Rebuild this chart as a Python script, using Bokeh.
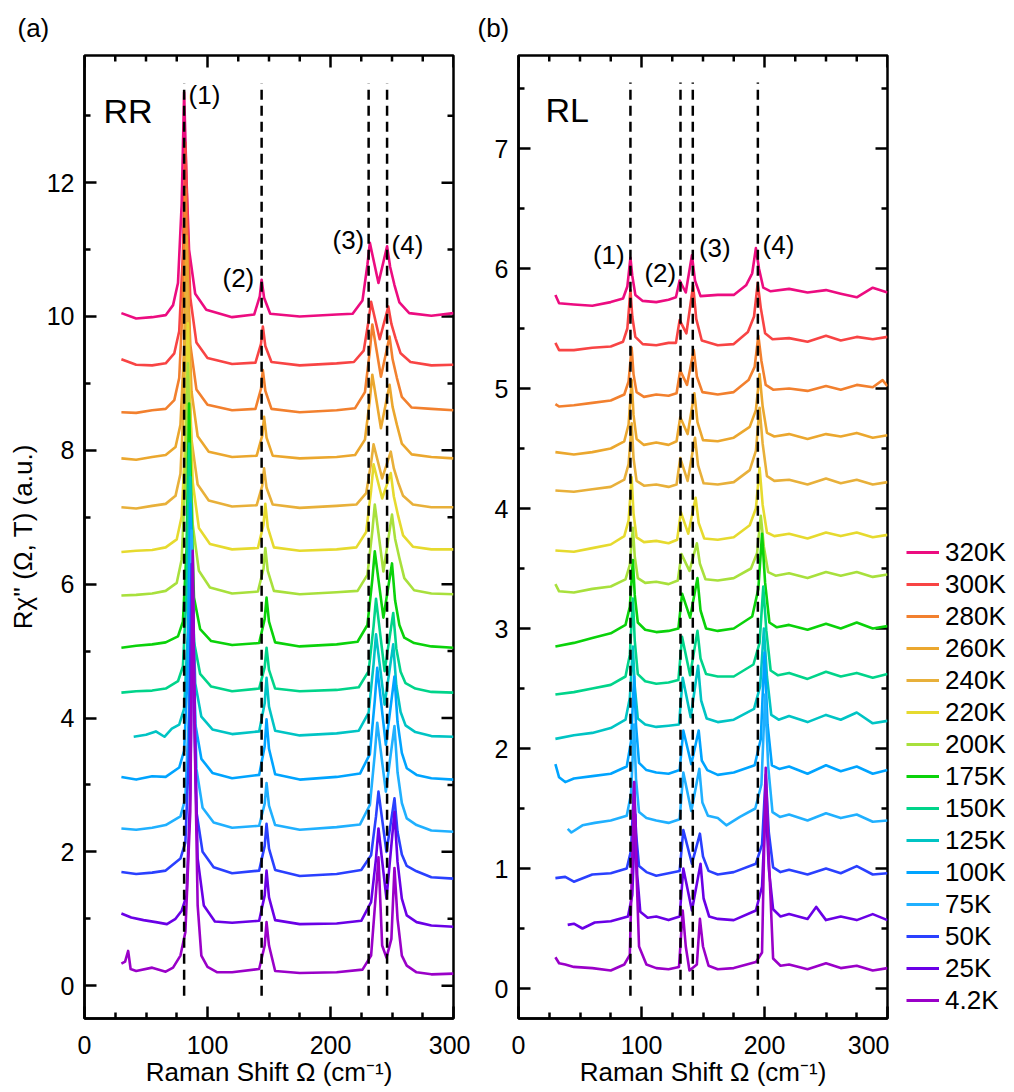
from bokeh.plotting import figure
from bokeh.models import Range1d, Legend, LegendItem, Label, FixedTicker, Title
from bokeh.layouts import row
from bokeh.embed import file_html
from bokeh.resources import INLINE

FONT = "Liberation Sans"

TEMPS = ["320K", "300K", "280K", "260K", "240K", "220K", "200K", "175K",
         "150K", "125K", "100K", "75K", "50K", "25K", "4.2K"]
COLORS = ["#EC0C80", "#F84444", "#F2802E", "#EBA72E", "#E8B03A", "#E6DA2E", "#A8E03C",
          "#0AD20A", "#00D48A", "#00C4C4", "#00A4FF", "#20B0FF", "#2A40FF", "#6A00E6", "#9A00C8"]

# ---------------- panel (a): RR ----------------
RR_X = [
    [30, 42, 55, 66, 72, 76, 79, 81, 83, 85, 90, 99, 120, 138, 142.5, 144, 146, 151, 175, 205, 218, 226, 230, 232, 239, 246, 248.5, 252, 256, 264, 282, 300],
    [30, 42, 55, 66, 73, 77, 80, 82, 84, 86, 91, 100, 120, 139, 143.5, 145, 147, 152, 175, 205, 219, 227, 231, 233, 240, 247, 249.5, 253, 257, 265, 282, 300],
    [30, 42, 55, 66, 73, 77, 80, 82, 84, 86, 91, 100, 120, 139, 143.5, 145, 147, 152, 175, 205, 220, 228, 232, 234, 241, 248, 250.5, 254, 258, 266, 282, 300],
    [30, 42, 55, 66, 74, 78, 81, 83, 85, 87, 92, 101, 120, 140, 144.5, 146, 148, 153, 175, 205, 220, 228, 232, 234, 241, 248, 250.5, 254, 258, 266, 282, 300],
    [30, 42, 55, 66, 74, 78, 81, 83, 85, 87, 92, 101, 120, 140, 144.5, 146, 148, 153, 175, 205, 221, 229, 233, 235, 242, 249, 251.5, 255, 259, 267, 282, 300],
    [30, 42, 55, 66, 75, 79, 82, 84, 86, 88, 93, 102, 120, 141, 145.5, 147, 149, 154, 175, 205, 221, 229, 233, 235, 242, 249, 251.5, 255, 259, 267, 282, 300],
    [30, 42, 55, 66, 75, 79, 82, 84, 86, 88, 93, 102, 120, 141, 145.5, 147, 149, 154, 175, 205, 222, 230, 234, 236, 243, 250, 252.5, 256, 260, 268, 282, 300],
    [30, 42, 55, 66, 76, 80, 83, 85, 87, 89, 94, 103, 120, 142, 146.5, 148, 150, 155, 175, 205, 222, 230, 234, 236, 243, 250, 252.5, 256, 260, 268, 282, 300],
    [30, 42, 55, 66, 76, 80, 83, 85, 87, 89, 94, 103, 120, 142, 146.5, 148, 150, 155, 175, 205, 223, 231, 235, 237, 244, 251, 253.5, 257, 261, 269, 282, 300],
    [40, 50, 58, 65, 71, 77, 81, 84, 86, 88, 90, 95, 104, 120, 142, 146.5, 148, 150, 155, 175, 205, 223, 231, 235, 237, 244, 251, 253.5, 257, 261, 269, 282, 300],
    [30, 42, 55, 66, 77, 81, 84, 86, 88, 90, 95, 104, 120, 142, 146.5, 148, 150, 155, 175, 205, 224, 232, 236, 238, 245, 252, 254.5, 258, 262, 270, 282, 300],
    [30, 42, 55, 66, 78, 82, 85, 87, 89, 91, 96, 105, 120, 142, 146.5, 148, 150, 155, 175, 205, 224, 232, 236, 238, 245, 252, 254.5, 258, 262, 270, 282, 300],
    [30, 42, 55, 66, 78, 82, 85, 87, 89, 91, 96, 105, 120, 142, 146.5, 148, 150, 155, 175, 205, 225, 233, 237, 239, 245.5, 252, 254.5, 258, 262, 270, 282, 300],
    [30, 38, 48, 58, 67, 74, 79, 83, 86, 88, 90, 92, 97, 106, 120, 142, 146.5, 148, 150, 155, 175, 205, 225, 233, 237, 239, 245.5, 252, 254.5, 258, 262, 270, 282, 300],
    [30, 33, 35.5, 37.5, 42, 55, 66, 72, 78, 82, 86, 88, 90, 92, 95, 100, 108, 120, 142, 146.5, 148, 150, 155, 175, 205, 226, 233, 237, 239, 242, 245.5, 249.5, 252, 254.5, 258, 262, 270, 282, 300],
]
RR_Y = [
    [10.05, 9.97, 9.99, 10.02, 10.17, 10.5, 11.68, 13.35, 12.01, 11.0, 10.34, 10.1, 9.99, 10.03, 10.3, 10.55, 10.28, 10.04, 10.0, 10.03, 10.04, 10.24, 10.77, 11.1, 10.5, 11.05, 10.74, 10.47, 10.21, 10.05, 10.01, 10.05],
    [9.36, 9.28, 9.27, 9.3, 9.45, 9.78, 10.94, 12.6, 11.27, 10.28, 9.61, 9.38, 9.29, 9.31, 9.59, 9.85, 9.56, 9.32, 9.27, 9.3, 9.32, 9.49, 9.94, 10.22, 9.66, 10.15, 9.89, 9.67, 9.45, 9.32, 9.27, 9.28],
    [8.57, 8.56, 8.6, 8.62, 8.75, 9.08, 10.24, 11.9, 10.57, 9.58, 8.91, 8.68, 8.6, 8.62, 8.92, 9.2, 8.89, 8.62, 8.57, 8.6, 8.63, 8.87, 9.49, 9.88, 9.1, 9.7, 9.36, 9.08, 8.8, 8.64, 8.62, 8.6],
    [7.88, 7.86, 7.9, 7.93, 8.05, 8.38, 9.54, 11.2, 9.87, 8.88, 8.21, 7.98, 7.9, 7.92, 8.22, 8.5, 8.19, 7.92, 7.88, 7.9, 7.93, 8.16, 8.76, 9.13, 8.33, 8.98, 8.65, 8.38, 8.1, 7.94, 7.9, 7.88],
    [7.15, 7.13, 7.17, 7.2, 7.32, 7.65, 8.83, 10.5, 9.16, 8.16, 7.49, 7.25, 7.16, 7.18, 7.47, 7.73, 7.44, 7.19, 7.14, 7.17, 7.19, 7.36, 7.81, 8.09, 7.58, 7.98, 7.73, 7.52, 7.32, 7.19, 7.15, 7.15],
    [6.48, 6.5, 6.51, 6.55, 6.67, 7.01, 8.2, 9.9, 8.54, 7.52, 6.84, 6.6, 6.52, 6.54, 6.89, 7.2, 6.85, 6.55, 6.5, 6.52, 6.55, 6.78, 7.4, 7.79, 7.28, 7.66, 7.31, 7.02, 6.73, 6.56, 6.52, 6.52],
    [5.83, 5.84, 5.86, 5.9, 6.02, 6.37, 7.58, 9.3, 7.92, 6.89, 6.2, 5.95, 5.86, 5.89, 6.23, 6.54, 6.2, 5.9, 5.85, 5.88, 5.9, 6.14, 6.79, 7.19, 6.19, 7.04, 6.68, 6.39, 6.09, 5.91, 5.86, 5.85],
    [5.05, 5.08, 5.1, 5.13, 5.22, 5.44, 6.53, 8.7, 7.07, 5.8, 5.33, 5.15, 5.09, 5.12, 5.48, 5.8, 5.44, 5.13, 5.07, 5.1, 5.14, 5.39, 6.07, 6.49, 5.5, 6.31, 5.76, 5.39, 5.2, 5.12, 5.07, 5.05],
    [4.38, 4.4, 4.41, 4.44, 4.55, 4.77, 5.88, 8.1, 6.44, 5.14, 4.66, 4.47, 4.4, 4.44, 4.76, 5.05, 4.72, 4.44, 4.4, 4.42, 4.46, 4.7, 5.37, 5.78, 4.7, 5.57, 5.04, 4.69, 4.52, 4.44, 4.39, 4.38],
    [3.72, 3.75, 3.8, 3.72, 3.84, 3.9, 4.14, 5.29, 7.6, 5.87, 4.52, 4.02, 3.83, 3.76, 3.8, 4.22, 4.6, 4.17, 3.81, 3.74, 3.77, 3.81, 4.08, 4.8, 5.25, 4.2, 5.1, 4.49, 4.09, 3.89, 3.79, 3.73, 3.72],
    [3.12, 3.08, 3.13, 3.12, 3.26, 3.51, 4.74, 7.2, 5.36, 3.92, 3.39, 3.18, 3.1, 3.15, 3.58, 3.98, 3.54, 3.16, 3.08, 3.12, 3.17, 3.46, 4.26, 4.75, 3.6, 4.62, 3.94, 3.48, 3.25, 3.15, 3.1, 3.08],
    [2.35, 2.33, 2.36, 2.4, 2.53, 2.8, 4.13, 6.8, 4.8, 3.24, 2.66, 2.44, 2.36, 2.39, 2.72, 3.03, 2.69, 2.4, 2.33, 2.37, 2.41, 2.7, 3.46, 3.93, 2.9, 3.88, 3.19, 2.73, 2.5, 2.4, 2.32, 2.3],
    [1.7, 1.67, 1.69, 1.72, 1.9, 2.14, 3.53, 6.3, 4.22, 2.6, 2.0, 1.77, 1.68, 1.72, 2.09, 2.42, 2.05, 1.73, 1.64, 1.67, 1.73, 1.95, 2.53, 2.9, 2.0, 2.8, 2.3, 1.96, 1.79, 1.71, 1.62, 1.6],
    [1.08, 1.02, 0.98, 0.95, 0.92, 1.0, 1.12, 1.35, 2.9, 6.0, 3.6, 1.9, 1.2, 0.96, 0.94, 0.97, 1.35, 1.72, 1.32, 0.98, 0.92, 0.93, 0.97, 1.25, 1.9, 2.35, 1.3, 2.6, 1.85, 1.3, 1.05, 0.95, 0.9, 0.88],
    [0.33, 0.36, 0.52, 0.25, 0.22, 0.27, 0.21, 0.27, 0.45, 0.8, 2.6, 6.5, 3.3, 1.2, 0.45, 0.28, 0.2, 0.2, 0.25, 0.6, 0.95, 0.6, 0.22, 0.19, 0.2, 0.24, 0.45, 1.4, 1.92, 0.6, 0.42, 0.7, 1.76, 1.0, 0.45, 0.3, 0.2, 0.17, 0.18],
]

# ---------------- panel (b): RL ----------------
RL_X = [
    [30, 33, 45, 60, 75, 85, 88.5, 91, 92.5, 95, 101, 112, 122, 128, 131, 136, 141, 143.5, 148, 162, 175, 185, 190, 193, 195.5, 199, 205, 220, 235, 250, 262, 275, 288, 300],
    [30, 33, 45, 60, 75, 85, 88.5, 91, 92.5, 95, 101, 112, 122, 128, 131, 136.5, 142, 144.5, 149, 162, 175, 186.5, 191.5, 194.5, 197, 200.5, 206.5, 220, 235, 250, 262, 275, 288, 300],
    [30, 33, 45, 60, 75, 86, 89.5, 92, 93.5, 96, 102, 112, 122, 128.5, 131.5, 137, 142.5, 145, 149.5, 162, 175, 187, 192, 195, 197.5, 201, 207, 220, 235, 250, 262, 275, 288, 296, 300],
    [30, 45, 60, 75, 86, 89.5, 92, 93.5, 96, 102, 112, 122, 128.5, 131.5, 137.5, 143, 145.5, 150, 162, 175, 188, 193, 196, 198.5, 202, 208, 220, 235, 250, 262, 275, 288, 300],
    [30, 45, 60, 75, 86, 89.5, 92, 93.5, 96, 102, 112, 122, 128.5, 131.5, 137.5, 143.5, 146, 150.5, 162, 175, 188, 193, 196, 198.5, 202, 208, 220, 235, 250, 262, 275, 288, 300],
    [30, 45, 60, 75, 86, 89.5, 92, 93.5, 96, 102, 112, 122, 129, 132, 138, 144, 146.5, 151, 162, 175, 188, 193, 196, 198.5, 202, 208, 220, 235, 250, 262, 275, 288, 300],
    [30, 33, 45, 60, 75, 87, 90.5, 93, 94.5, 97, 103, 112, 122, 129.5, 132.5, 139, 145, 147.5, 152, 162, 175, 189, 194, 197, 199.5, 203, 209, 220, 235, 250, 262, 275, 288, 300],
    [30, 45, 60, 75, 87, 90.5, 93, 94.5, 97, 103, 112, 122, 130, 133, 139.5, 145.5, 148, 152.5, 162, 175, 190, 195, 198, 200.5, 204, 210, 220, 235, 250, 262, 275, 288, 300],
    [30, 45, 60, 75, 87, 90.5, 93, 94.5, 97, 103, 112, 122, 130, 133, 139.5, 145.5, 148, 152.5, 162, 175, 191, 196, 199, 201.5, 205, 211, 220, 235, 250, 262, 275, 288, 300],
    [30, 45, 60, 75, 87, 90.5, 93, 94.5, 97, 103, 112, 122, 130.5, 133.5, 140, 146, 148.5, 153, 162, 175, 191.5, 196.5, 199.5, 202, 205.5, 211.5, 220, 235, 250, 262, 275, 288, 300],
    [30, 33, 38, 45, 60, 75, 88, 91.5, 94, 95.5, 98, 104, 112, 122, 131, 134, 140.5, 146.5, 149, 153.5, 162, 175, 192, 197, 200, 202.5, 206, 212, 220, 235, 250, 262, 275, 288, 300],
    [40, 43, 52, 62, 75, 88, 91.5, 94, 95.5, 98, 104, 112, 122, 131, 134, 140.5, 147, 149.5, 154, 162, 169, 180, 192.5, 197.5, 200.5, 203, 206.5, 212.5, 220, 235, 250, 262, 275, 288, 300],
    [30, 38, 45, 60, 75, 88, 91.5, 94, 95.5, 98, 104, 112, 122, 131, 134, 141, 147.5, 150, 154.5, 162, 175, 193, 198, 201, 203.5, 207, 213, 220, 235, 250, 262, 275, 288, 300],
    [40, 45, 52, 62, 75, 89, 92.5, 95, 96.5, 99, 105, 112, 122, 131, 134, 141, 148, 150.5, 155, 162, 175, 193, 198, 201, 203.5, 207, 213, 220, 235, 242, 250, 262, 275, 288, 300],
    [30, 33, 38, 45, 60, 75, 86, 90.5, 94, 95.5, 98, 104, 112, 122, 130.5, 133.5, 136, 139, 145, 147.5, 150, 154.5, 162, 175, 193, 198, 201, 203.5, 207, 213, 220, 235, 250, 262, 275, 288, 300],
]
RL_Y = [
    [5.78, 5.71, 5.7, 5.69, 5.72, 5.75, 5.85, 6.09, 5.94, 5.78, 5.73, 5.72, 5.74, 5.76, 5.9, 5.8, 6.11, 5.9, 5.77, 5.78, 5.78, 5.86, 5.96, 6.17, 6.0, 5.84, 5.81, 5.83, 5.8, 5.82, 5.79, 5.76, 5.84, 5.8],
    [5.38, 5.32, 5.32, 5.34, 5.35, 5.39, 5.5, 5.82, 5.6, 5.43, 5.37, 5.36, 5.38, 5.38, 5.57, 5.46, 5.86, 5.58, 5.4, 5.36, 5.37, 5.47, 5.6, 5.88, 5.67, 5.46, 5.41, 5.42, 5.39, 5.44, 5.4, 5.43, 5.41, 5.43],
    [4.87, 4.85, 4.86, 4.88, 4.9, 4.95, 5.06, 5.34, 5.12, 4.97, 4.93, 4.95, 4.94, 4.96, 5.15, 5.03, 5.32, 5.1, 4.97, 4.95, 4.97, 5.07, 5.18, 5.44, 5.23, 5.03, 4.99, 5.0, 4.98, 5.02, 4.99, 5.03, 5.01, 5.07, 5.02],
    [4.47, 4.45, 4.47, 4.5, 4.56, 4.7, 5.07, 4.78, 4.58, 4.53, 4.55, 4.53, 4.56, 4.76, 4.62, 4.96, 4.72, 4.57, 4.56, 4.59, 4.68, 4.82, 5.12, 4.85, 4.63, 4.6, 4.62, 4.58, 4.62, 4.6, 4.63, 4.59, 4.61],
    [4.15, 4.14, 4.16, 4.18, 4.24, 4.37, 4.71, 4.42, 4.23, 4.19, 4.2, 4.18, 4.2, 4.42, 4.23, 4.59, 4.36, 4.21, 4.2, 4.22, 4.32, 4.48, 4.84, 4.54, 4.27, 4.23, 4.24, 4.2, 4.25, 4.21, 4.24, 4.2, 4.22],
    [3.65, 3.64, 3.67, 3.7, 3.77, 3.9, 4.26, 3.96, 3.76, 3.72, 3.73, 3.71, 3.74, 3.97, 3.79, 4.09, 3.88, 3.75, 3.74, 3.76, 3.86, 4.0, 4.34, 4.03, 3.8, 3.77, 3.79, 3.75, 3.8, 3.77, 3.8, 3.76, 3.78],
    [3.37, 3.31, 3.3, 3.33, 3.35, 3.41, 3.53, 3.84, 3.6, 3.42, 3.38, 3.39, 3.37, 3.4, 3.62, 3.48, 3.71, 3.54, 3.41, 3.4, 3.42, 3.5, 3.63, 3.94, 3.68, 3.47, 3.44, 3.46, 3.42, 3.47, 3.44, 3.47, 3.43, 3.45],
    [2.85, 2.88, 2.92, 2.96, 3.03, 3.18, 3.57, 3.28, 3.05, 2.99, 2.97, 2.98, 3.0, 3.29, 3.09, 3.42, 3.15, 3.0, 2.98, 3.0, 3.1, 3.33, 3.79, 3.38, 3.05, 3.01, 3.03, 2.99, 3.04, 3.0, 3.05, 3.0, 3.02],
    [2.45, 2.47, 2.5, 2.53, 2.6, 2.78, 3.25, 2.9, 2.62, 2.56, 2.54, 2.55, 2.57, 2.93, 2.61, 2.98, 2.75, 2.62, 2.6, 2.6, 2.7, 2.88, 3.35, 2.98, 2.65, 2.61, 2.63, 2.58, 2.64, 2.6, 2.63, 2.59, 2.62],
    [2.08, 2.11, 2.13, 2.17, 2.24, 2.42, 2.85, 2.52, 2.25, 2.2, 2.18, 2.19, 2.2, 2.59, 2.26, 2.69, 2.4, 2.25, 2.22, 2.24, 2.33, 2.52, 3.0, 2.6, 2.28, 2.24, 2.27, 2.22, 2.28, 2.24, 2.3, 2.21, 2.23],
    [1.87, 1.76, 1.72, 1.75, 1.77, 1.79, 1.85, 2.06, 2.6, 2.2, 1.88, 1.82, 1.8, 1.79, 1.82, 2.15, 1.87, 2.15, 1.9, 1.82, 1.78, 1.8, 1.86, 2.08, 2.8, 2.2, 1.86, 1.83, 1.85, 1.79, 1.86, 1.81, 1.85, 1.79, 1.82],
    [1.33, 1.3, 1.36, 1.38, 1.4, 1.44, 1.62, 2.2, 1.75, 1.47, 1.42, 1.4, 1.38, 1.41, 1.8, 1.48, 1.83, 1.55, 1.44, 1.42, 1.36, 1.43, 1.5, 1.7, 2.45, 1.85, 1.47, 1.43, 1.45, 1.4, 1.46, 1.42, 1.45, 1.39, 1.4],
    [0.92, 0.93, 0.89, 0.95, 0.96, 1.0, 1.15, 1.72, 1.3, 1.02, 0.97, 0.94, 0.96, 0.98, 1.32, 1.04, 1.29, 1.1, 0.98, 0.95, 0.97, 1.04, 1.2, 1.78, 1.3, 1.01, 0.97, 0.99, 0.95, 1.0, 0.96, 1.02, 0.95, 0.96],
    [0.53, 0.54, 0.5, 0.55, 0.56, 0.6, 0.78, 1.45, 0.95, 0.64, 0.59, 0.6, 0.57, 0.6, 1.0, 0.65, 1.04, 0.75, 0.6, 0.58, 0.57, 0.65, 0.85, 1.55, 1.0, 0.66, 0.6, 0.62, 0.58, 0.68, 0.57, 0.6, 0.57, 0.62, 0.57],
    [0.26, 0.21, 0.2, 0.18, 0.17, 0.15, 0.2, 0.28, 1.72, 1.1, 0.35, 0.2, 0.17, 0.16, 0.18, 0.65, 0.35, 0.15, 0.2, 0.58, 0.35, 0.19, 0.16, 0.17, 0.22, 0.3, 1.84, 1.1, 0.25, 0.19, 0.2, 0.16, 0.21, 0.17, 0.19, 0.15, 0.17],
]

RR_MODES = [81, 144, 231, 246]
RL_MODES = [91, 131.7, 141.7, 194.6]
MODE_LABELS = ["(1)", "(2)", "(3)", "(4)"]
X_TICKS = [0, 100, 200, 300]
X_MINOR = [25, 50, 75, 125, 150, 175, 225, 250, 275]
RR_YTICKS = [0, 2, 4, 6, 8, 10, 12]
RR_YMINOR = [1, 3, 5, 7, 9, 11, 13]
RL_YTICKS = [0, 1, 2, 3, 4, 5, 6, 7]
RL_YMINOR = [0.5, 1.5, 2.5, 3.5, 4.5, 5.5, 6.5, 7.5]

FRAME_W = 369.0
FRAME_H = 963.0
NAN = float("nan")


def style_axis(ax, ticks, minor):
    ax.ticker = FixedTicker(ticks=ticks, minor_ticks=minor)
    ax.axis_line_width = 2.5
    ax.axis_line_color = "black"
    ax.major_tick_line_width = 2.5
    ax.minor_tick_line_width = 2.5
    ax.major_tick_line_color = "black"
    ax.minor_tick_line_color = "black"
    ax.major_tick_in = 12
    ax.major_tick_out = 0
    ax.minor_tick_in = 6
    ax.minor_tick_out = 0
    ax.major_label_text_font = FONT
    ax.major_label_text_color = "black"
    ax.major_label_text_font_size = "25px"
    ax.axis_label_text_font = FONT
    ax.axis_label_text_font_size = "26px"
    ax.axis_label_text_font_style = "normal"
    ax.axis_label_text_color = "black"


def make_panel(width, left, right, yrange, yticks, yminor, tag, tag_offset):
    p = figure(width=width, height=1092, x_range=Range1d(0, 300), y_range=Range1d(*yrange),
               output_backend="svg", toolbar_location=None,
               min_border_left=left, min_border_right=right,
               min_border_top=55, min_border_bottom=74,
               title=Title(text=tag, align="left", offset=tag_offset, text_font=FONT,
                           text_font_size="26px", text_font_style="normal",
                           text_color="black", vertical_align="top", standoff=22))
    p.xgrid.visible = False
    p.ygrid.visible = False
    p.outline_line_color = "black"
    p.outline_line_width = 2.5
    p.background_fill_color = "white"
    p.border_fill_color = "white"
    xa = p.xaxis[0]
    ya = p.yaxis[0]
    style_axis(xa, X_TICKS, X_MINOR)
    style_axis(ya, yticks, yminor)
    xa.major_label_standoff = 17
    ya.major_label_standoff = 10
    xa.axis_label = "Raman Shift \u03a9 (cm\u207b\u00b9)"
    xa.axis_label_standoff = 0
    # mirrored inward ticks on the top and right edges of the frame
    y0, y1 = yrange
    ypx = (y1 - y0) / FRAME_H
    xpx = 300.0 / FRAME_W
    p.segment(x0=X_TICKS, y0=[y1 - 12 * ypx] * len(X_TICKS), x1=X_TICKS, y1=[y1] * len(X_TICKS),
              line_color="black", line_width=2.5)
    p.segment(x0=X_MINOR, y0=[y1 - 6 * ypx] * len(X_MINOR), x1=X_MINOR, y1=[y1] * len(X_MINOR),
              line_color="black", line_width=2.5)
    p.segment(x0=[300 - 12 * xpx] * len(yticks), y0=yticks, x1=[300] * len(yticks), y1=yticks,
              line_color="black", line_width=2.5)
    p.segment(x0=[300 - 6 * xpx] * len(yminor), y0=yminor, x1=[300] * len(yminor), y1=yminor,
              line_color="black", line_width=2.5)
    return p, xa, ya


pa, pa_x, pa_y = make_panel(470, 84, 17, (-0.49, 13.9), RR_YTICKS, RR_YMINOR, "(a)", -67)
pb, pb_x, pb_y = make_panel(419, 48, 2, (-0.25, 7.775), RL_YTICKS, RL_YMINOR, "(b)", -41)
pa_y.axis_label = "R\u03c7'' (\u03a9, T) (a.u.)"
pa_y.axis_label_standoff = 6

for xs, ys, c in zip(RR_X, RR_Y, COLORS):
    n = min(len(xs), len(ys))
    pa.line(xs[:n], ys[:n], line_color=c, line_width=2.6, line_join="round")

for xs, ys, c in zip(RL_X, RL_Y, COLORS):
    n = min(len(xs), len(ys))
    pb.line(xs[:n], ys[:n], line_color=c, line_width=2.6, line_join="round")

pa.segment(x0=RR_MODES, y0=[-0.15] * 4, x1=RR_MODES, y1=[13.48] * 4,
           line_color="black", line_width=2.5, line_dash="10 6")
pb.segment(x0=RL_MODES, y0=[-0.06] * 4, x1=RL_MODES, y1=[7.55] * 4,
           line_color="black", line_width=2.5, line_dash="10 6")


def add_label(p, x, y, text, size, baseline="middle", align="left"):
    p.add_layout(Label(x=x, y=y, text=text, text_font=FONT, text_font_size=size,
                       text_color="black", text_baseline=baseline, text_align=align))


add_label(pa, 15.4, 13.07, "RR", "34px", baseline="alphabetic")
add_label(pb, 22.0, 7.325, "RL", "34px", baseline="alphabetic")

RR_LABEL_POS = [(84.6, 13.31), (112.2, 10.57), (201.6, 11.15), (249.6, 11.07)]
RL_LABEL_POS = [(60.5, 6.11), (102.4, 5.96), (146.7, 6.17), (198.4, 6.2)]
for (x, y), t in zip(RR_LABEL_POS, MODE_LABELS):
    add_label(pa, x, y, t, "26px")
for (x, y), t in zip(RL_LABEL_POS, MODE_LABELS):
    add_label(pb, x, y, t, "26px")

# legend lives in its own narrow figure to the right of panel (b)
pc = figure(width=125, height=1092, x_range=Range1d(0, 1), y_range=Range1d(0, 1),
            output_backend="svg", toolbar_location=None, min_border=0,
            x_axis_location=None, y_axis_location=None)
pc.grid.visible = False
pc.outline_line_color = None
pc.background_fill_color = "white"
pc.border_fill_color = "white"
keys = [pc.line(x=[NAN], y=[NAN], line_color=c, line_width=3.2) for c in COLORS]
legend = Legend(items=[LegendItem(label=t, renderers=[r]) for t, r in zip(TEMPS, keys)],
                location=(17, 2), orientation="vertical",
                glyph_width=33, glyph_height=32, label_height=32, label_width=60,
                spacing=0, padding=0, margin=0, label_standoff=6,
                label_text_font=FONT, label_text_font_size="26px", label_text_color="black",
                border_line_color=None, background_fill_alpha=0)
pc.add_layout(legend)

layout = row(pa, pb, pc)
open("out.html", "w").write(file_html(layout, INLINE))
